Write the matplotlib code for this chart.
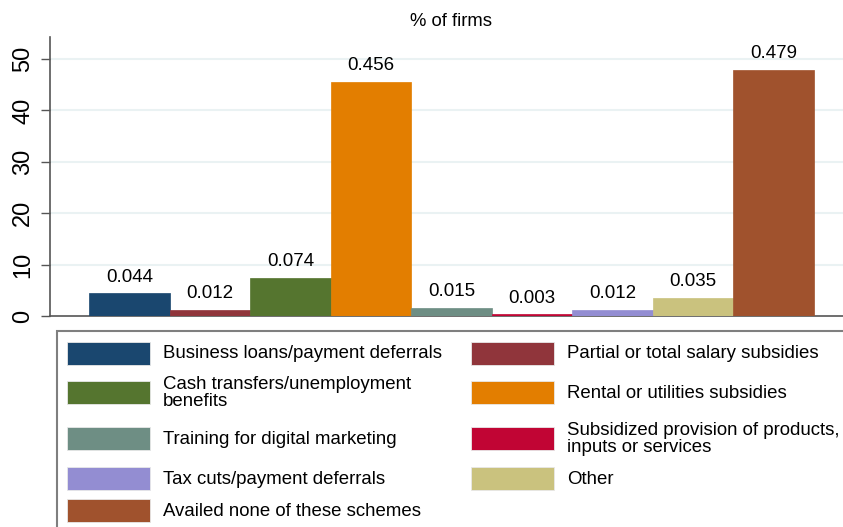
import matplotlib
matplotlib.use("Agg")
import matplotlib.pyplot as plt
from matplotlib.patches import Rectangle

plt.rcParams['font.family'] = ['Liberation Sans', 'DejaVu Sans']

categories = [
    "Business loans/payment deferrals",
    "Partial or total salary subsidies",
    "Cash transfers/unemployment\nbenefits",
    "Rental or utilities subsidies",
    "Training for digital marketing",
    "Subsidized provision of products,\ninputs or services",
    "Tax cuts/payment deferrals",
    "Other",
    "Availed none of these schemes",
]
shares = [0.044, 0.012, 0.074, 0.456, 0.015, 0.003, 0.012, 0.035, 0.479]
percent = [s * 100 for s in shares]
colors = ["#1a476f", "#90353b", "#55752f", "#e37e00", "#6e8e84",
          "#c10534", "#938dd2", "#cac27e", "#a0522d"]
yticks = [0, 10, 20, 30, 40, 50]

W, H = 843, 527
fig = plt.figure(figsize=(W / 100, H / 100), dpi=100)
ax = fig.add_axes([50 / W, 1 - 316 / H, 803 / W, (316 - 37) / H])

x = list(range(len(percent)))
ax.bar(x, percent, width=1.0, color=colors, edgecolor=colors, linewidth=0.5, zorder=3)
for xi, p, s in zip(x, percent, shares):
    ax.annotate(f"{s:.3f}", (xi, p), xytext=(0, 8.5), textcoords="offset points",
                ha="center", va="baseline", fontsize=13.5, color="black", zorder=4)

ax.set_xlim(-0.984, 8.984)
ax.set_ylim(0, 54.3)
ax.set_yticks(yticks)
ax.set_yticklabels([str(t) for t in yticks])
ax.set_xticks([])
for t in yticks[1:]:
    ax.axhline(t, color="#eaf2f3", linewidth=1.5, zorder=1)
ax.tick_params(axis="y", labelrotation=90, labelsize=17, length=6.5, width=1,
               color="#555555", pad=5)
for lab in ax.get_yticklabels():
    lab.set_va("center")
for side in ["top", "right"]:
    ax.spines[side].set_visible(False)
for side in ["left", "bottom"]:
    ax.spines[side].set_color("#555555")
    ax.spines[side].set_linewidth(1.2)
ax.set_title("% of firms", fontsize=13.3, pad=8)

# legend drawn manually in pixel layout (row-major, 2 columns)
def fx(px):
    return px / W

def fy(py):
    return 1 - py / H

fig.patches.append(Rectangle((fx(57), fy(540)), fx(860) - fx(57), fy(331) - fy(540),
                             transform=fig.transFigure, facecolor="white",
                             edgecolor="#7f7f7f", linewidth=1.5, zorder=1))
row_centers = [353, 392, 438, 478, 510]
col_swatch = [67, 471]
col_text = [163, 567]
for i, (lab, c) in enumerate(zip(categories, colors)):
    r, col = divmod(i, 2)
    yc = row_centers[r]
    fig.patches.append(Rectangle((fx(col_swatch[col]), fy(yc + 11.5)), fx(83), 23 / H,
                                 transform=fig.transFigure, facecolor=c,
                                 edgecolor="#e8e8e8", linewidth=0.6, zorder=2))
    fig.text(fx(col_text[col]), fy(yc + 1), lab, fontsize=13.4, va="center", ha="left",
             linespacing=0.95, zorder=3)

fig.savefig("out.png", dpi=100)
